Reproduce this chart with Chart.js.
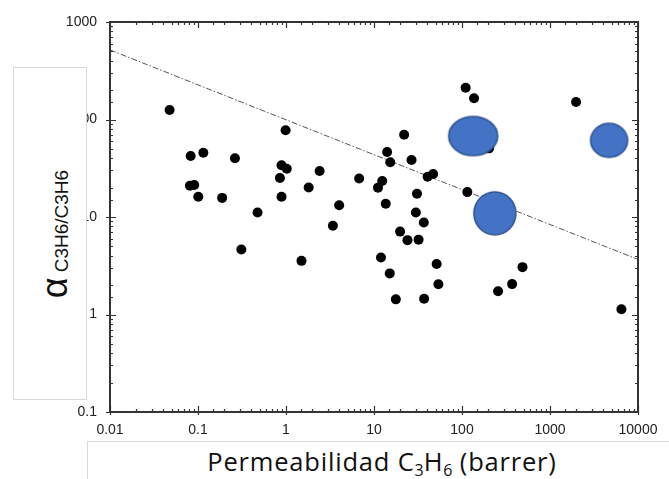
<!DOCTYPE html>
<html>
<head>
<meta charset="utf-8">
<script src="https://cdn.jsdelivr.net/npm/chart.js@4.4.1/dist/chart.umd.min.js"></script>
<style>
  html, body { margin: 0; padding: 0; background: #fff; }
  #wrap { position: relative; width: 669px; height: 479px; overflow: hidden; }
  #ybox { position: absolute; left: 13px; top: 67px; width: 72px; height: 331px;
          border: 1px solid #d9d9d9; background: #fff; }
  #ytitle { position: absolute; left: 55px; top: 234px; white-space: nowrap;
            transform: translate(-50%, -50%) rotate(-90deg);
            font-family: "Liberation Sans", Arial, sans-serif; color: #111; }
  #ytitle .a { font-size: 36px; }
  #ytitle .s { font-size: 19px; position: relative; top: 1px; margin-left: 5px; }
  #xbox { position: absolute; left: 87px; top: 441px; width: 600px; height: 60px;
          border: 1px solid #d9d9d9; background: #fff; }
  #xtitle { position: absolute; left: 382px; top: 461px; transform: translate(-50%, -50%);
            white-space: nowrap; font-family: "Open Sans", sans-serif; font-size: 25.5px;
            letter-spacing: 0.8px; color: #111; }
  #xtitle sub { font-size: 16px; vertical-align: -5px; line-height: 0; letter-spacing: 0; }
</style>
</head>
<body>
<div id="wrap">
  <canvas id="chart" width="669" height="479"></canvas>
  <div id="ybox"></div>
  <div id="ytitle"><span class="a">α</span><span class="s">C3H6/C3H6</span></div>
  <div id="xbox"></div>
  <div id="xtitle">Permeabilidad C<sub>3</sub>H<sub>6</sub> (barrer)</div>
</div>
<script>
// black dots: C3H6 permeability (barrer) vs selectivity
const permX = [0.0476, 0.99, 0.0826, 0.115, 0.263, 0.89, 1.02, 2.41, 0.853, 0.081,
  0.0906, 1.81, 0.1007, 0.188, 0.89, 4.02, 0.475, 3.41, 0.311, 1.50,
  22.0, 14.1, 26.7, 15.3, 6.78, 12.4, 11.1, 40.7, 47.0, 115,
  30.8, 13.6, 29.9, 36.8, 19.8, 24.0, 32.1, 12.0, 51.5, 15.1,
  53.9, 17.7, 37.1, 257, 371, 487, 6480, 110, 137, 1977, 203];
const alphaY = [125, 77.5, 42.2, 45.6, 40, 33.9, 31.3, 29.6, 25.1, 20.9,
  21.3, 20.1, 16.1, 15.7, 16.1, 13.2, 11.1, 8.12, 4.65, 3.55,
  69.8, 46.4, 38.4, 36.4, 24.8, 23.4, 20.0, 25.9, 27.6, 18.0,
  17.3, 13.7, 11.1, 8.8, 7.08, 5.79, 5.86, 3.85, 3.30, 2.64,
  2.04, 1.43, 1.45, 1.73, 2.05, 3.06, 1.13, 212, 165, 151, 50.6];

// blue ellipses
const newX = [134, 4690, 236];
const newY = [67.7, 61.1, 10.9];

// upper bound line
const trendX = [0.01, 10000];
const trendY = [517, 3.67];

const xTicks = [0.01, 0.1, 1, 10, 100, 1000, 10000];
const xTickLabels = ['0.01', '0.1', '1', '10', '100', '1000', '10000'];
const yTicks = [0.1, 1, 10, 100, 1000];
const yTickLabels = ['0.1', '1', '10', '100', '1000'];

// ellipse sizes in px (w, h)
const ellipseSize = [[49, 39], [37, 34], [42, 43]];

function ellipseImg(w, h) {
  const c = document.createElement('canvas');
  c.width = w + 4; c.height = h + 4;
  const g = c.getContext('2d');
  g.beginPath();
  g.ellipse(c.width / 2, c.height / 2, w / 2, h / 2, 0, 0, Math.PI * 2);
  g.fillStyle = '#4472C4';
  g.fill();
  g.lineWidth = 1.5;
  g.strokeStyle = '#2F528F';
  g.stroke();
  return c;
}

function labelFor(v, vals, labels) {
  for (let i = 0; i < vals.length; i++) {
    if (Math.abs(Math.log10(v) - Math.log10(vals[i])) < 1e-6) return labels[i];
  }
  return '';
}

const isMajor = v => Math.abs(Math.log10(v) - Math.round(Math.log10(v))) < 1e-6;

const frame = {
  id: 'frame',
  afterDatasetsDraw(chart) {
    const a = chart.chartArea, ctx = chart.ctx;
    const xs = chart.scales.x, ys = chart.scales.y;
    ctx.save();
    ctx.strokeStyle = '#333';
    ctx.lineWidth = 1.2;
    ctx.beginPath();
    xs.ticks.forEach(t => {
      const p = Math.round(xs.getPixelForValue(t.value)) + 0.5;
      const len = isMajor(t.value) ? 6 : 3;
      ctx.moveTo(p, a.bottom + (isMajor(t.value) ? 3 : 0)); ctx.lineTo(p, a.bottom - len);
      ctx.moveTo(p, a.top); ctx.lineTo(p, a.top + len);
    });
    ys.ticks.forEach(t => {
      const p = Math.round(ys.getPixelForValue(t.value)) + 0.5;
      const len = isMajor(t.value) ? 6 : 3;
      ctx.moveTo(a.left - (isMajor(t.value) ? 4 : 0), p); ctx.lineTo(a.left + len, p);
      ctx.moveTo(a.right, p); ctx.lineTo(a.right - len, p);
    });
    ctx.stroke();
    ctx.lineWidth = 2;
    ctx.strokeRect(a.left, a.top, a.right - a.left, a.bottom - a.top);
    ctx.restore();
  }
};

const tickFont = { family: '"Liberation Sans", Arial, sans-serif', size: 14 };

new Chart(document.getElementById('chart'), {
  type: 'scatter',
  data: {
    datasets: [
      {
        label: 'nuevos',
        data: newX.map((x, i) => ({ x: x, y: newY[i] })),
        pointStyle: ellipseSize.map(s => ellipseImg(s[0], s[1])),
        order: 1
      },
      {
        label: 'literatura',
        data: permX.map((x, i) => ({ x: x, y: alphaY[i] })),
        pointRadius: 5,
        pointBackgroundColor: '#000',
        pointBorderColor: '#000',
        pointBorderWidth: 0,
        order: 2
      },
      {
        type: 'line',
        label: 'limite',
        data: trendX.map((x, i) => ({ x: x, y: trendY[i] })),
        borderColor: '#555',
        borderWidth: 1,
        borderDash: [6, 2, 1.5, 2],
        pointRadius: 0,
        fill: false,
        order: 3
      }
    ]
  },
  options: {
    responsive: false,
    animation: false,
    events: [],
    layout: { padding: { top: 22, right: 31, left: 0, bottom: 0 } },
    plugins: { legend: { display: false }, tooltip: { enabled: false } },
    scales: {
      x: {
        type: 'logarithmic',
        min: 0.01, max: 10000,
        grid: { display: false, drawTicks: false },
        border: { display: false },
        afterFit: s => { s.height = 67; },
        ticks: {
          autoSkip: false, maxRotation: 0, padding: 10,
          color: '#222', font: tickFont,
          callback: v => labelFor(v, xTicks, xTickLabels)
        }
      },
      y: {
        type: 'logarithmic',
        min: 0.1, max: 1000,
        grid: { display: false, drawTicks: false },
        border: { display: false },
        afterFit: s => { s.width = 110; },
        ticks: {
          autoSkip: false, padding: 13,
          color: '#222', font: tickFont,
          callback: v => labelFor(v, yTicks, yTickLabels)
        }
      }
    }
  },
  plugins: [frame]
});
</script>
</body>
</html>
